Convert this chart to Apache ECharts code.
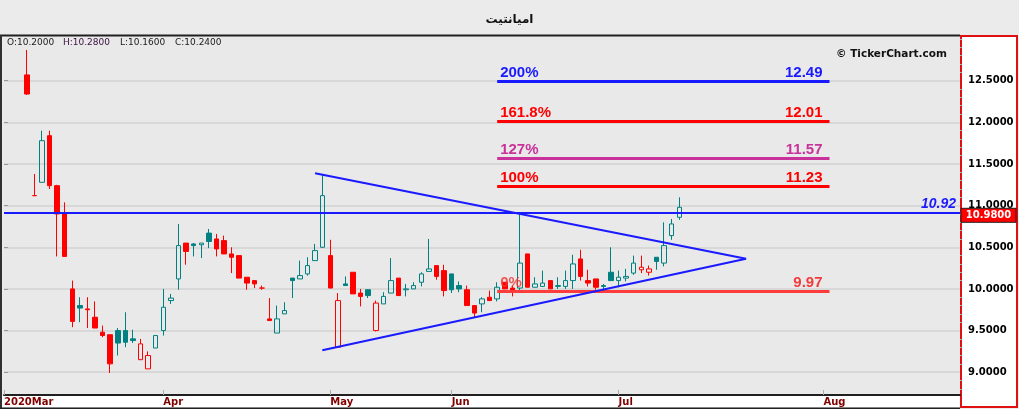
<!DOCTYPE html>
<html><head><meta charset="utf-8">
<script src="https://cdn.jsdelivr.net/npm/echarts@6/dist/echarts.min.js"></script>
<style>html,body{margin:0;padding:0;background:#ebebeb}#c{width:1019px;height:409px}</style>
</head><body><div id="c"></div>
<script>
// ---------- DATA ----------
const chartTitle = 'امیانتیت';
const slotCount = 127;               // trading-day slots on the x axis
const firstCandleSlot = 3;           // slot of the first candle
const monthTickSlots = [0, 21, 43, 59, 81, 108];
const monthTickLabels = ['2020Mar', 'Apr', 'May', 'Jun', 'Jul', 'Aug'];

const opens  = [12.57,11.12,11.28,11.84,11.24,10.90,10.00,9.80,9.76,9.66,9.48,9.45,9.50,9.50,9.40,9.15,9.04,9.29,9.50,9.86,
                10.12,10.55,10.54,10.53,10.67,10.60,10.58,10.42,10.40,10.14,10.10,10.01,9.64,9.47,9.70,10.13,10.12,10.18,10.34,10.50,
                10.40,9.30,10.06,10.20,9.95,9.99,9.50,9.82,9.95,10.13,9.99,10.00,10.08,10.21,10.28,10.22,10.18,10.04,9.99,9.80,
                9.82,9.90,9.88,10.08,10.01,10.01,10.42,10.02,10.03,10.10,10.03,10.03,10.10,10.36,10.10,10.12,10.04,10.20,10.10,10.13,
                10.19,10.23,10.20,10.38,10.31,10.64,10.86];
const highs  = [12.87,11.38,11.90,11.90,11.25,11.04,10.10,9.90,9.90,9.85,9.56,9.45,9.53,9.72,9.51,9.40,9.25,9.44,10.00,9.94,
                10.78,10.55,10.55,10.55,10.72,10.66,10.64,10.50,10.40,10.14,10.10,10.04,9.89,9.80,9.84,10.13,10.34,10.38,10.54,11.37,
                10.59,9.95,10.15,10.20,10.00,9.99,9.86,9.96,10.37,10.13,10.06,10.08,10.20,10.60,10.28,10.29,10.18,10.09,10.04,9.80,
                9.90,9.98,10.08,10.08,10.04,10.90,10.42,10.14,10.22,10.10,10.14,10.22,10.41,10.47,10.23,10.12,10.06,10.50,10.22,10.24,
                10.40,10.40,10.28,10.38,10.80,10.84,11.10];
const lows   = [12.33,11.12,11.28,11.20,10.39,10.39,9.54,9.60,9.53,9.53,9.42,8.99,9.20,9.30,9.35,9.15,9.04,9.29,9.44,9.82,
                9.99,10.29,10.39,10.37,10.49,10.39,10.42,10.19,10.13,9.99,10.01,9.99,9.62,9.47,9.70,9.89,10.12,10.16,10.34,10.49,
                10.01,9.29,10.04,9.94,9.79,9.89,9.49,9.82,9.95,9.92,9.91,10.00,10.03,10.21,10.11,9.91,9.95,9.96,9.80,9.65,
                9.72,9.86,9.85,10.00,9.91,9.96,10.02,10.02,10.03,10.00,10.00,10.00,10.00,10.10,10.03,9.99,9.99,10.10,10.02,10.09,
                10.17,10.19,10.16,10.23,10.27,10.59,10.83];
const closes = [12.34,11.12,11.78,11.24,10.90,10.39,9.61,9.77,9.75,9.53,9.44,9.10,9.35,9.36,9.38,9.34,9.20,9.44,9.78,9.89,
                10.52,10.45,10.52,10.55,10.57,10.48,10.42,10.38,10.13,10.07,10.06,10.01,9.62,9.64,9.74,10.10,10.16,10.28,10.46,11.12,
                10.01,9.86,10.04,9.94,9.91,9.92,9.83,9.91,10.10,9.92,10.00,10.04,10.18,10.24,10.15,9.98,9.99,10.00,9.80,9.71,
                9.88,9.86,10.02,10.00,9.96,10.31,10.02,10.06,10.07,10.00,10.04,10.10,10.30,10.15,10.07,10.02,10.03,10.10,10.14,10.15,
                10.31,10.26,10.24,10.33,10.52,10.78,10.98];

const yMin = 8.726, yMax = 13.025;
const yTickValues = [9, 9.5, 10, 10.5, 11, 11.5, 12, 12.5];
const yMinorTickValues = [8.8,8.9,9.1,9.2,9.3,9.4,9.6,9.7,9.8,9.9,10.1,10.2,10.3,10.4,10.6,10.7,10.8,10.9,
                          11.1,11.2,11.3,11.4,11.6,11.7,11.8,11.9,12.1,12.2,12.3,12.4,12.6,12.7,12.8,12.9,13.0];

const fibNames  = ['200%', '161.8%', '127%', '100%', '0%'];
const fibValues = [12.49, 12.01, 11.57, 11.23, 9.97];
const fibStartSlot = 65, fibEndSlot = 108.8;

const resistanceValue = 10.92;
const triangleSlots  = [41.0, 97.8, 41.95];
const triangleValues = [11.388, 10.363, 9.263];

const headerLabels = ['O', 'H', 'L', 'C'];
const headerValues = [10.20, 10.28, 10.16, 10.24];

// ---------- STYLE ----------
const TEAL = '#008080', RED = '#ff0000', BLUE = '#1a1aff';
const fibStyles = [
  {line: BLUE, text: BLUE},
  {line: RED, text: RED},
  {line: '#c8329a', text: '#c8329a'},
  {line: RED, text: RED},
  {line: '#ff3c3c', text: 'rgba(245,50,50,0.8)', valueText: '#f03c3c'}
];
const GL = 4, GT = 37, GR = 960, GB = 395; // plot rect in px

const candleData = opens.map((o, k) => {
  const c = closes[k];
  const prev = k > 0 ? closes[k - 1] : Infinity;
  const col = c >= prev ? TEAL : RED;
  const fill = c > o ? 'rgba(0,0,0,0)' : col;
  return {value: [firstCandleSlot + k, o, c, lows[k], highs[k]],
          itemStyle: {color: fill, color0: fill, borderColor: col, borderColor0: col}};
});

const categories = Array.from({length: slotCount}, (_, i) => String(i));

const markData = [];
fibValues.forEach((v, i) => {
  const st = fibStyles[i];
  const font = {fontFamily: 'Liberation Sans, Arial', fontSize: 15, fontWeight: 'bold'};
  markData.push([
    {coord: [fibStartSlot, v], lineStyle: {color: st.line, width: 3, type: 'solid'},
     label: Object.assign({show: true, position: 'insideStartTop', formatter: fibNames[i], color: st.text,
       distance: 1, padding: [0, 0, 0, 2]}, font)},
    {coord: [fibEndSlot, v]}
  ]);
  markData.push([
    {coord: [fibStartSlot, v], lineStyle: {color: 'rgba(0,0,0,0)', width: 1, type: 'solid'},
     label: Object.assign({show: true, position: 'insideEndTop', formatter: v.toFixed(2), color: st.valueText || st.text,
       distance: 1, padding: [0, 6, 0, 0]}, font)},
    {coord: [fibEndSlot, v]}
  ]);
});
markData.push([
  {coord: [0, resistanceValue], lineStyle: {color: BLUE, width: 2, type: 'solid'},
   label: {show: true, position: 'insideEndTop', formatter: resistanceValue.toFixed(2), color: BLUE,
     fontFamily: 'Liberation Sans, Arial', fontSize: 14, fontWeight: 'bold', fontStyle: 'italic',
     distance: 1, padding: [0, 3, 0, 0]}},
  {coord: [slotCount - 1, resistanceValue]}
]);

const headerGraphics = headerLabels.map((l, i) => ({
  type: 'text', left: [7, 63, 120, 175][i], top: 38, z: 10,
  style: {text: l + ':' + headerValues[i].toFixed(4), fill: i === 1 ? '#3a1040' : '#202020',
          font: '9px "DejaVu Sans"'}
}));

const chart = echarts.init(document.getElementById('c'), null, {renderer: 'canvas'});
const baseGraphics = [
  {type: 'rect', id: 'xstrip', shape: {x: 2, y: 396, width: GR - 2, height: 11}, style: {fill: '#ffffff'}, z: -5},
  {type: 'rect', id: 'rpanel', shape: {x: 961, y: 36, width: 56, height: 371}, style: {fill: '#ffffff', stroke: '#e01010', lineWidth: 2}, z: -5},
  {type: 'rect', id: 'topb', shape: {x: 0, y: 34.5, width: GR, height: 2}, style: {fill: '#202020'}, z: 5},
  {type: 'rect', id: 'leftb', shape: {x: 0, y: 35, width: 2, height: 374}, style: {fill: '#303030'}, z: 5},
  {type: 'rect', id: 'botb', shape: {x: 0, y: 407.5, width: GR, height: 1.5}, style: {fill: '#202020'}, z: 5},
  {type: 'text', id: 'copy', left: 836, top: 49, z: 10,
   style: {text: '© TickerChart.com', fill: '#111', font: 'bold 10.5px "DejaVu Sans"'}}
].concat(headerGraphics);

chart.setOption({
  animation: false,
  backgroundColor: '#ebebeb',
  title: {text: chartTitle, left: 'center', top: 9,
          textStyle: {fontFamily: 'DejaVu Sans', fontSize: 12, fontWeight: 'bold', color: '#111'}},
  grid: {left: GL, top: GT, right: 1019 - GR, bottom: 409 - GB, show: true,
         backgroundColor: '#e9e9e9', borderWidth: 0},
  xAxis: [
    {type: 'category', data: categories, boundaryGap: false,
     axisLine: {lineStyle: {color: '#202020', width: 2}},
     axisTick: {show: true, inside: true, length: 5, lineStyle: {color: '#aaaaaa'},
                interval: (i) => monthTickSlots.includes(i)},
     axisLabel: {interval: (i) => monthTickSlots.includes(i), align: 'left', margin: 2,
                 formatter: (v, i) => monthTickLabels[monthTickSlots.indexOf(i)] || '',
                 color: '#800000', fontFamily: 'DejaVu Sans', fontWeight: 'bold', fontSize: 10},
     splitLine: {show: false}},
    {type: 'value', min: 0, max: slotCount - 1, show: false, splitLine: {show: false}}
  ],
  yAxis: [
    {type: 'value', position: 'right', min: yMin, max: yMax, scale: true,
     axisLine: {show: false},
     axisTick: {show: true, length: 4, customValues: yTickValues, lineStyle: {color: '#999'}},
     axisLabel: {customValues: yTickValues, margin: 8, formatter: (v) => v.toFixed(4),
                 color: '#000', fontFamily: 'DejaVu Sans', fontWeight: 'bold', fontSize: 10},
     splitLine: {show: true, lineStyle: {color: '#d2d2d2', width: 1.5}}},
    {type: 'value', position: 'right', min: yMin, max: yMax, scale: true,
     axisLine: {show: false},
     axisTick: {show: true, length: 2, customValues: yMinorTickValues, lineStyle: {color: '#aaa'}},
     axisLabel: {show: false}, splitLine: {show: false}}
  ],
  series: [
    {type: 'candlestick', xAxisIndex: 0, yAxisIndex: 0, data: candleData, barWidth: 5,
     encode: {x: 0, y: [1, 2, 3, 4]},
     itemStyle: {borderWidth: 1}, z: 3},
    {type: 'line', xAxisIndex: 1, yAxisIndex: 0, z: 5, symbol: 'none', silent: true,
     data: triangleSlots.map((s, i) => [s, triangleValues[i]]),
     lineStyle: {color: BLUE, width: 2},
     markLine: {symbol: ['none', 'none'], silent: true, animation: false,
                lineStyle: {type: 'solid'}, data: markData}}
  ],
  graphic: baseGraphics
});

// last price box on the right axis
const lastClose = closes[closes.length - 1];
const py = chart.convertToPixel({yAxisIndex: 0}, lastClose);
chart.setOption({graphic: baseGraphics.concat([
  {type: 'rect', id: 'pbox', shape: {x: 961, y: py + 1, width: 55, height: 14},
   style: {fill: '#ff0000', stroke: '#222', lineWidth: 1}, z: 20},
  {type: 'text', id: 'ptext', x: 988.5, y: py + 8, z: 21,
   style: {text: lastClose.toFixed(4), fill: '#fff', font: 'bold 10px "DejaVu Sans"', align: 'center', verticalAlign: 'middle'}}
])});
</script></body></html>
